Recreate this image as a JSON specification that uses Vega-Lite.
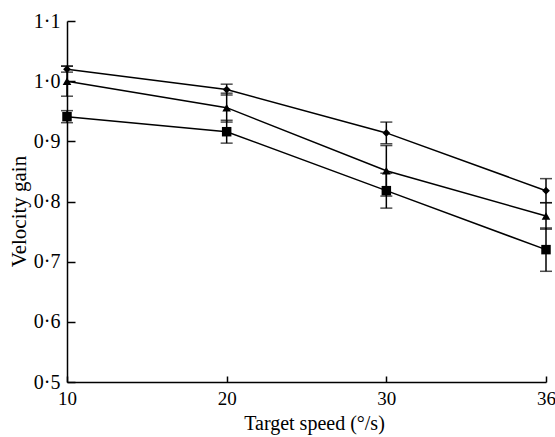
{
  "$schema": "https://vega.github.io/schema/vega-lite/v6.json",
  "width": 479,
  "height": 361,
  "autosize": "none",
  "padding": {"left": 67, "top": 21, "right": 9, "bottom": 55},
  "background": "white",
  "config": {
    "view": {"stroke": null},
    "font": "Liberation Serif",
    "axis": {"grid": false, "domainColor": "black", "tickColor": "black", "labelColor": "black", "titleColor": "black", "labelFont": "Liberation Serif", "titleFont": "Liberation Serif", "titleFontWeight": "normal", "domainWidth": 1.5, "tickWidth": 1.5}
  },
  "data": {
    "values": [
      {"x": 10, "s": "diamond", "v": 1.020, "lo": 1.015, "hi": 1.025},
      {"x": 20, "s": "diamond", "v": 0.986, "lo": 0.977, "hi": 0.995},
      {"x": 30, "s": "diamond", "v": 0.914, "lo": 0.896, "hi": 0.932},
      {"x": 36, "s": "diamond", "v": 0.818, "lo": 0.798, "hi": 0.838},
      {"x": 10, "s": "triangle", "v": 1.000, "lo": 0.975, "hi": 1.025},
      {"x": 20, "s": "triangle", "v": 0.956, "lo": 0.932, "hi": 0.980},
      {"x": 30, "s": "triangle", "v": 0.851, "lo": 0.809, "hi": 0.893},
      {"x": 36, "s": "triangle", "v": 0.776, "lo": 0.754, "hi": 0.798},
      {"x": 10, "s": "square", "v": 0.941, "lo": 0.931, "hi": 0.951},
      {"x": 20, "s": "square", "v": 0.916, "lo": 0.897, "hi": 0.935},
      {"x": 30, "s": "square", "v": 0.818, "lo": 0.789, "hi": 0.847},
      {"x": 36, "s": "square", "v": 0.720, "lo": 0.684, "hi": 0.756}
    ]
  },
  "encoding": {
    "x": {
      "field": "x", "type": "ordinal",
      "scale": {"type": "point", "padding": 0},
      "axis": {"title": "Target speed (°/s)", "labelAngle": 0, "labelFontSize": 19, "titleFontSize": 20, "tickSize": -6, "labelPadding": 13, "titlePadding": 5, "titleX": 247, "labelBaseline": "top"}
    }
  },
  "layer": [
    {
      "mark": {"type": "rule", "color": "black", "strokeWidth": 1.5},
      "encoding": {
        "y": {"field": "lo", "type": "quantitative", "scale": {"domain": [0.5, 1.1], "nice": false, "zero": false},
          "axis": {"title": "Velocity gain", "values": [0.5, 0.6, 0.7, 0.8, 0.9, 1.0, 1.1], "labelExpr": "replace(format(datum.value, '.1f'), '.', '·')", "labelFontSize": 20, "titleFontSize": 21, "tickSize": -8, "labelPadding": 15, "titlePadding": 4, "titleY": 190}},
        "y2": {"field": "hi"}
      }
    },
    {
      "mark": {"type": "tick", "color": "black", "size": 12, "thickness": 1.5},
      "encoding": {"y": {"field": "lo", "type": "quantitative"}}
    },
    {
      "mark": {"type": "tick", "color": "black", "size": 12, "thickness": 1.5},
      "encoding": {"y": {"field": "hi", "type": "quantitative"}}
    },
    {
      "mark": {"type": "line", "color": "black", "strokeWidth": 1.5},
      "encoding": {
        "y": {"field": "v", "type": "quantitative"},
        "detail": {"field": "s"}
      }
    },
    {
      "mark": {"type": "point", "filled": true, "color": "black", "opacity": 1},
      "encoding": {
        "y": {"field": "v", "type": "quantitative"},
        "shape": {"field": "s", "type": "nominal", "scale": {"domain": ["diamond", "triangle", "square"], "range": ["diamond", "triangle-up", "square"]}, "legend": null},
        "size": {"field": "s", "type": "nominal", "scale": {"domain": ["diamond", "triangle", "square"], "range": [60, 90, 100]}, "legend": null}
      }
    }
  ]
}
